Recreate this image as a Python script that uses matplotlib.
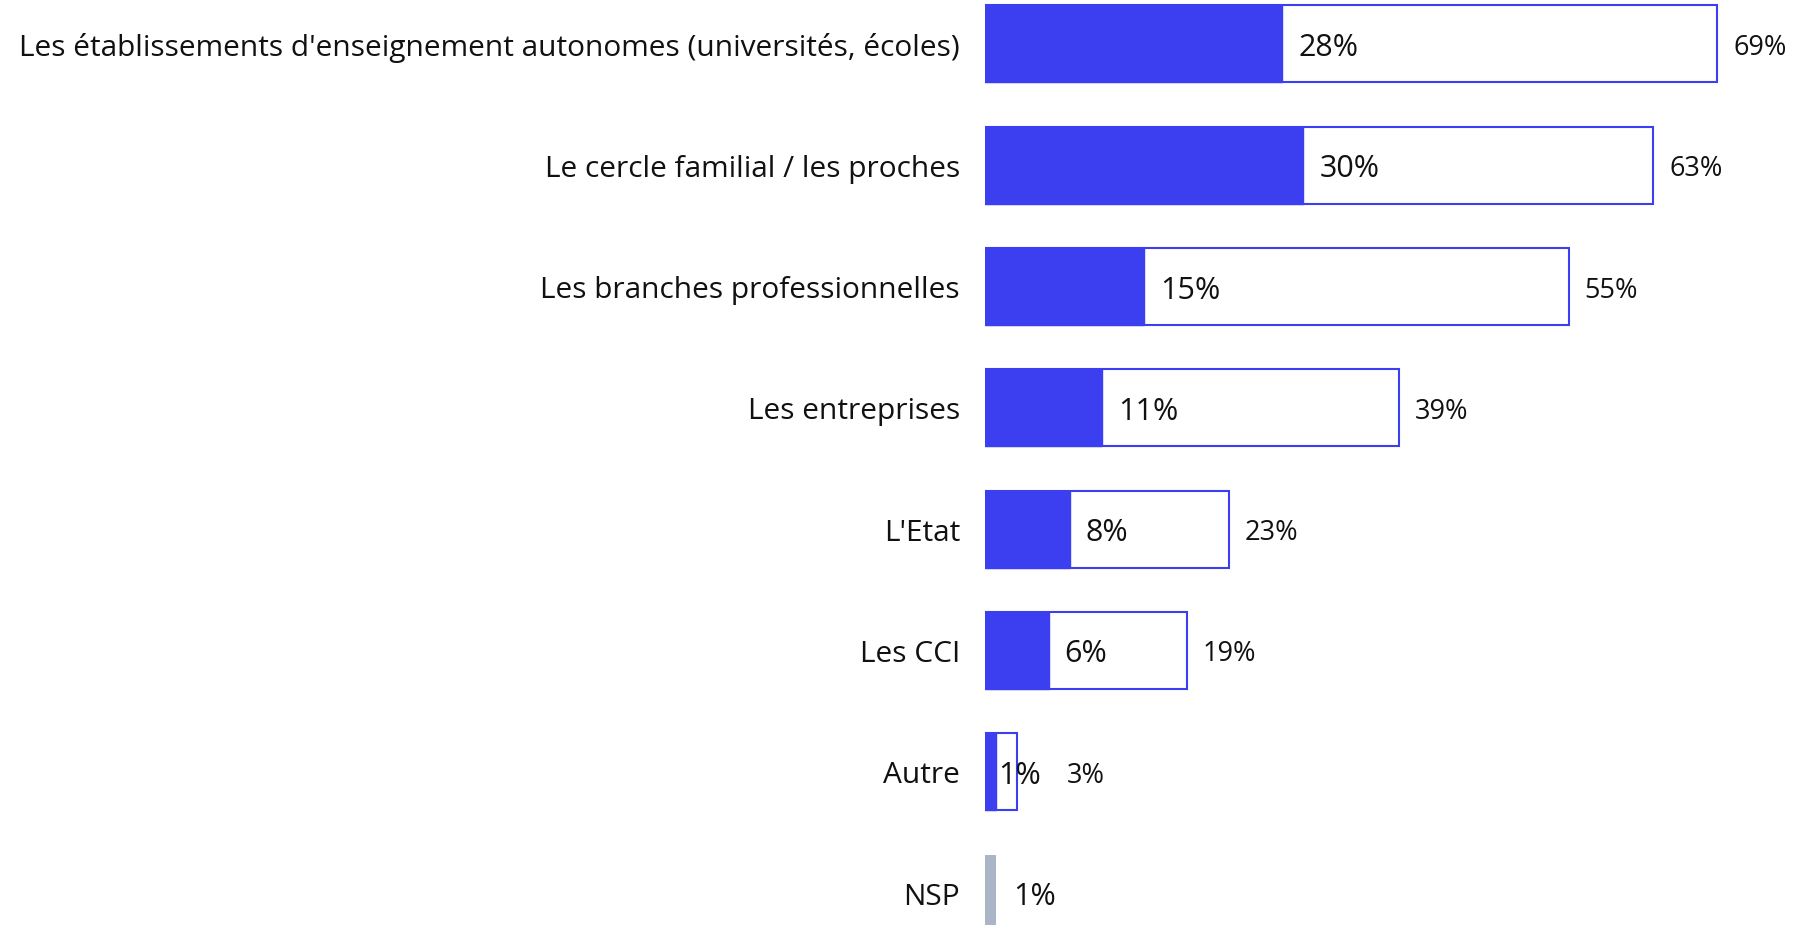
import matplotlib
matplotlib.use("Agg")
import matplotlib.pyplot as plt

categories = [
    "Les établissements d'enseignement autonomes (universités, écoles)",
    "Le cercle familial / les proches",
    "Les branches professionnelles",
    "Les entreprises",
    "L'Etat",
    "Les CCI",
    "Autre",
    "NSP",
]
first_choice = [28, 30, 15, 11, 8, 6, 1, None]
total_choice = [69, 63, 55, 39, 23, 19, 3, None]
nsp_value = 1

BLUE = "#3c3ff0"
GRAY = "#abb5c8"

W, H = 1795, 925
fig = plt.figure(figsize=(W / 100, H / 100), dpi=100)
left_px = 985
ax = fig.add_axes([left_px / W, 0, 1 - left_px / W, 1])
px_per_unit = 10.61
ax.set_xlim(0, (W - left_px) / px_per_unit)
row_px = 121.3
top_center = 44
ax.set_ylim((H - top_center) / row_px, -top_center / row_px)
ax.axis("off")

font = "Open Sans"
fs_label = 21.5
fs_in = 22
fs_out = 19.5
bh = 77 / row_px
pad = 16 / px_per_unit
dy = 4 / row_px

for i, cat in enumerate(categories):
    fig.text((left_px - 25) / W, 1 - (top_center + 4 + i * row_px) / H, cat,
             ha="right", va="center", fontsize=fs_label, family=font, color="#111111")
    if cat == "NSP":
        ax.barh(i, nsp_value, height=bh, color=GRAY, clip_on=True)
        ax.text(nsp_value + 1.7, i + dy, f"{nsp_value}%", ha="left", va="center",
                fontsize=fs_in, family=font, color="#111111")
        continue
    f, t = first_choice[i], total_choice[i]
    ax.barh(i, t, height=bh, color="white", edgecolor=BLUE, linewidth=1.5)
    ax.barh(i, f, height=bh, color=BLUE, edgecolor=BLUE, linewidth=1.0)
    p = pad if (t - f) > 3 else 0.2
    ax.text(f + p, i + dy, f"{f}%", ha="left", va="center", fontsize=fs_in,
            family=font, color="#111111")
    xr = max(t + 1.5, f + p + 6.5)
    ax.text(xr, i + dy, f"{t}%", ha="left", va="center", fontsize=fs_out,
            family=font, color="#111111")

fig.savefig("out.png", dpi=100)
